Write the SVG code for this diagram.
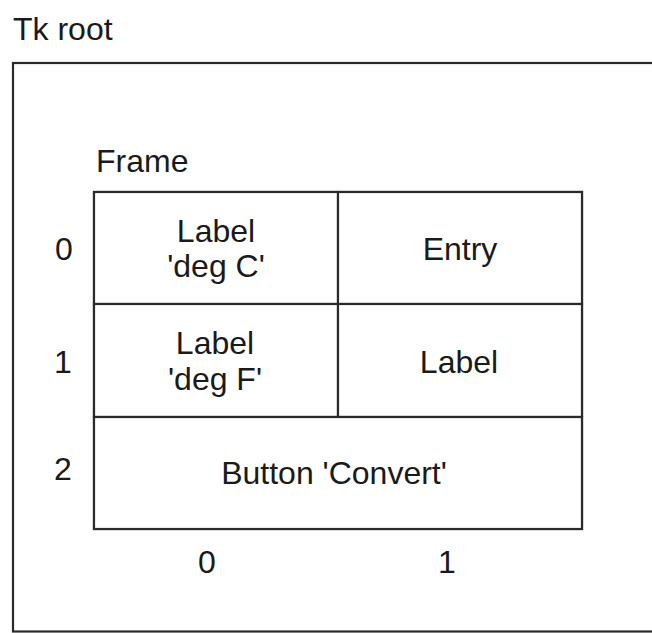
<svg xmlns="http://www.w3.org/2000/svg" width="652" height="633" viewBox="0 0 652 633">
<style>
text{font-family:"Liberation Sans",Arial,sans-serif;font-size:32px;fill:#1a1a1a}
.c{text-anchor:middle}
.b{fill:#fff;stroke:#2a2a2a;stroke-width:2.2}
</style>
<rect width="652" height="633" fill="#fff"/>
<g id="tkroot">
<rect class="b" x="13" y="63" width="660" height="568.5"/>
<text x="13" y="40">Tk root</text>
</g>
<g id="frame">
<text x="96" y="172">Frame</text>
<rect class="b" x="94" y="192" width="488" height="337"/>
</g>
<g id="cell-0-0">
<rect class="b" x="94" y="192" width="244" height="112"/>
<text class="c" x="216" y="242">Label</text>
<text class="c" x="216" y="277">'deg C'</text>
</g>
<g id="cell-0-1">
<rect class="b" x="338" y="192" width="244" height="112"/>
<text class="c" x="460" y="260">Entry</text>
</g>
<g id="cell-1-0">
<rect class="b" x="94" y="304" width="244" height="113"/>
<text class="c" x="215" y="354">Label</text>
<text class="c" x="215" y="390">'deg F'</text>
</g>
<g id="cell-1-1">
<rect class="b" x="338" y="304" width="244" height="113"/>
<text class="c" x="459" y="373">Label</text>
</g>
<g id="cell-2">
<rect class="b" x="94" y="417" width="488" height="112"/>
<text class="c" x="334" y="484">Button 'Convert'</text>
</g>
<g id="axis-labels">
<text class="c" x="64" y="260">0</text>
<text class="c" x="63" y="373">1</text>
<text class="c" x="63" y="480">2</text>
<text class="c" x="207" y="573">0</text>
<text class="c" x="447" y="573">1</text>
</g>
<g id="connectors"></g>
</svg>
